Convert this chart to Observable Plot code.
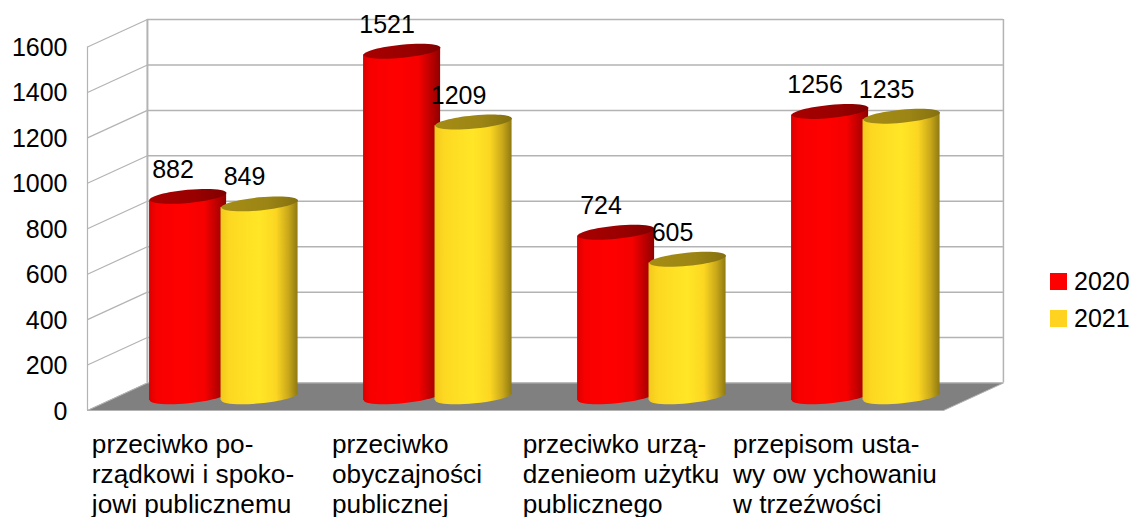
<!DOCTYPE html>
<html><head><meta charset="utf-8">
<script src="https://cdn.jsdelivr.net/npm/d3@7"></script>
<script src="https://cdn.jsdelivr.net/npm/@observablehq/plot@0.6"></script>
<style>
html,body{margin:0;padding:0;background:#fff;overflow:hidden;width:1131px;height:517px}
#chart{position:relative;width:1131px;height:517px}
svg{display:block}
.legend{position:absolute;left:1050px;top:263px;font:25px "Liberation Sans",sans-serif;color:#000}
.legend div{display:flex;align-items:center;height:37px}
.legend i{display:inline-block;width:17px;height:17px;margin-right:7px}
</style></head><body><div id="chart"></div>
<script>
const categories = ["przeciwko po-\nrządkowi i spoko-\njowi publicznemu","przeciwko\nobyczajności\npublicznej","przeciwko urzą-\ndzenieom użytku\npublicznego","przepisom usta-\nwy ow ychowaniu\nw trzeźwości"];
const values2020 = [882,1521,724,1256];
const values2021 = [849,1209,605,1235];
const yTicks = [0,200,400,600,800,1000,1200,1400,1600];
const seriesNames = ["2020","2021"];
const seriesColors = ["#ff0000","#ffd320"];

const FONT = 25, CATFONT = 26.2, FF = '"Liberation Sans", sans-serif';
// 3D box depth, in scale units
const depthX = 0.28, depthY = 121;
const lastX = categories.length;
const halfW = 0.18, tilt = 16;
const seriesPos = [0.47, 0.804];
const chart = document.getElementById("chart");

function tiltedEllipse(ratio, deg){
  const a = deg*Math.PI/180, c = Math.cos(a), s = Math.sin(a), k = 0.5523;
  return {draw(ctx, size){
    const rx = Math.sqrt(size/Math.PI), ry = rx*ratio;
    const p = (x,y)=>[x*rx*c - y*ry*s, x*rx*s + y*ry*c];
    ctx.moveTo(...p(1,0));
    ctx.bezierCurveTo(...p(1,k),...p(k,1),...p(0,1));
    ctx.bezierCurveTo(...p(-k,1),...p(-1,k),...p(-1,0));
    ctx.bezierCurveTo(...p(-1,-k),...p(-k,-1),...p(0,-1));
    ctx.bezierCurveTo(...p(k,-1),...p(1,-k),...p(1,0));
    ctx.closePath();
  }};
}
const sym = tiltedEllipse(0.17, -5.5);

function defs(){
  const d = d3.create("svg:defs");
  const grad = (id, stops)=>{
    const g = d.append("linearGradient").attr("id",id);
    stops.forEach(([o,c])=>g.append("stop").attr("offset",o).attr("stop-color",c));
  };
  grad("bodyRed",[[0,"#dc0000"],[0.1,"#f80000"],[0.45,"#ff0000"],[0.72,"#f60000"],[1,"#900000"]]);
  grad("bodyYel",[[0,"#f2c91e"],[0.12,"#fdd822"],[0.5,"#ffe626"],[0.72,"#fcd622"],[0.88,"#c9a81a"],[1,"#8f7a12"]]);
  grad("topRed",[[0,"#a80000"],[0.6,"#990000"],[1,"#800000"]]);
  grad("topYel",[[0,"#a58c14"],[0.6,"#9c8515"],[1,"#84700f"]]);
  return d.node();
}

function seriesMarks(vals, si, bodyId, topId){
  const half = depthY/2, pos = seriesPos[si];
  const rows = vals.map((v,i)=>({i, v, x:i+pos}));
  const area = rows.flatMap(r=>[
    {i:r.i, x:r.x-halfW, y1:half-tilt, y2:r.v+half-tilt},
    {i:r.i, x:r.x+halfW, y1:half+tilt, y2:r.v+half+tilt}]);
  const r = 38.5;
  return [
    Plot.dot(rows,{x:"x",y:half,r,symbol:sym,fill:`url(#${bodyId})`,stroke:"none"}),
    Plot.areaY(area,{x:"x",y1:"y1",y2:"y2",z:"i",fill:`url(#${bodyId})`,curve:"linear"}),
    Plot.dot(rows,{x:"x",y:d=>d.v+half,r,symbol:sym,fill:`url(#${topId})`,stroke:"none"})
  ];
}

function labelMarks(vals, si){
  const rows = vals.map((v,i)=>({v,x:i+seriesPos[si],y:v+depthY/2}));
  return Plot.text(rows,{x:"x",y:"y",text:d=>String(d.v),dx:-15,dy:-26.5,fontSize:FONT,fill:"#000"});
}

const measure = document.createElement("canvas").getContext("2d");
measure.font = `${CATFONT}px ${FF}`;
const categoryMarks = categories.map((t,i)=>{
  const w = d3.max(t.split("\n"),l=>measure.measureText(l).width);
  return Plot.text([t],{x:()=>i+0.5,y:()=>0,text:d=>d,textAnchor:"start",lineAnchor:"top",
    lineHeight:30/CATFONT,dx:-w/2-1.5,dy:21.5,fontSize:CATFONT,fill:"#000"});
});

const wallTicks = yTicks;
const plot = Plot.plot({
  width:1131,height:517,marginLeft:87,marginRight:188,marginTop:46.5,marginBottom:107,
  style:{fontFamily:FF,color:"#000",background:"#fff",overflow:"visible"},
  x:{domain:[0,lastX],axis:null},
  y:{domain:[0,1600],axis:null},
  marks:[
    defs,
    // back wall gridlines
    Plot.ruleY(wallTicks,{y:d=>d+depthY,x1:depthX,x2:lastX+depthX,stroke:"#b3b3b3",strokeWidth:1.5}),
    // side wall diagonals
    Plot.link(wallTicks,{x1:0,y1:d=>d,x2:depthX,y2:d=>d+depthY,stroke:"#b3b3b3",strokeWidth:1.2}),
    Plot.ruleX([0],{y1:0,y2:1600,stroke:"#b3b3b3",strokeWidth:1.2}),
    Plot.ruleX([depthX],{y1:depthY,y2:1600+depthY,stroke:"#b3b3b3",strokeWidth:2}),
    Plot.ruleX([lastX+depthX],{y1:depthY,y2:1600+depthY,stroke:"#b3b3b3",strokeWidth:1.5}),
    // floor
    Plot.line([[0,0],[depthX,depthY],[lastX+depthX,depthY],[lastX,0],[0,0]],
      {x:d=>d[0],y:d=>d[1],fill:"#808080",stroke:"#b3b3b3",strokeWidth:1,curve:"linear"}),
    ...seriesMarks(values2020,0,"bodyRed","topRed"),
    ...seriesMarks(values2021,1,"bodyYel","topYel"),
    labelMarks(values2020,0),
    labelMarks(values2021,1),
    Plot.axisY({ticks:yTicks,tickSize:0,tickPadding:20,tickFormat:d=>String(d),fontSize:FONT,dy:1,label:null}),
    ...categoryMarks
  ]
});
chart.appendChild(plot);

const legend = d3.select(chart).append("div").attr("class","legend");
seriesNames.forEach((n,i)=>{
  const row = legend.append("div");
  row.append("i").style("background",seriesColors[i]);
  row.append("span").text(n);
});
</script></body></html>
